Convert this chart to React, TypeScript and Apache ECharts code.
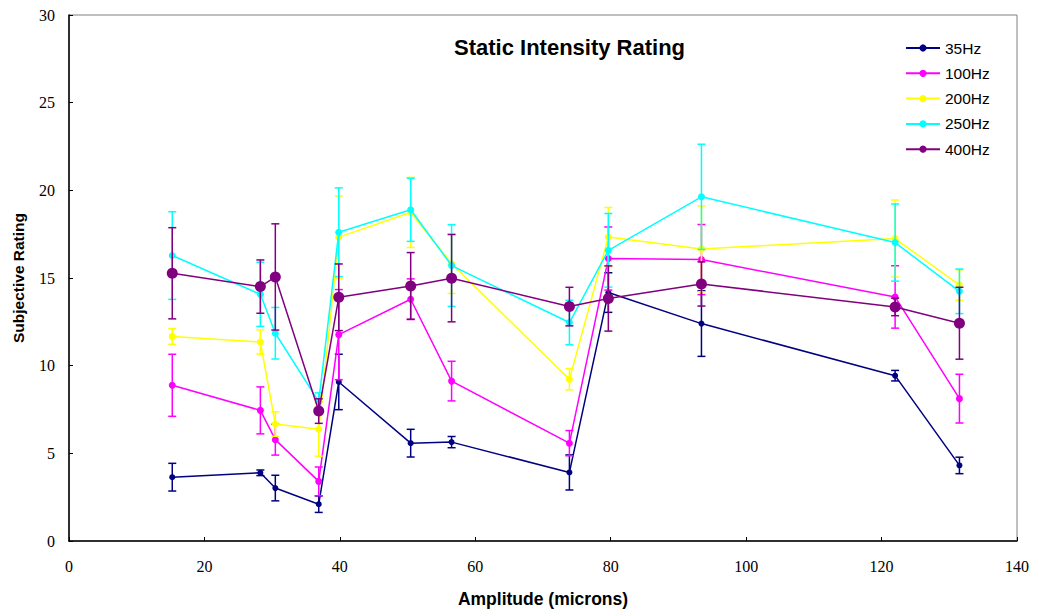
import React, { useEffect, useRef } from "react";
import * as echarts from "echarts";

const amplitudes = [15.25, 28.26, 30.47, 36.88, 39.84, 50.46, 56.5, 73.9, 79.65, 93.4, 122.0, 131.5];
const seriesNames = ["35Hz", "100Hz", "200Hz", "250Hz", "400Hz"];
const seriesColors = ["#000080", "#FF00FF", "#FFFF00", "#00FFFF", "#800080"];
const symbolSizes = [6, 7, 7, 7, 11];

const hz35 = [3.64, 3.89, 3.02, 2.1, 9.07, 5.58, 5.64, 3.91, 14.17, 12.4, 9.43, 4.31];
const hz100 = [8.88, 7.45, 5.78, 3.4, 11.77, 13.79, 9.12, 5.58, 16.11, 16.05, 13.92, 8.12];
const hz200 = [11.67, 11.35, 6.67, 6.37, 17.33, 18.74, 15.82, 9.22, 17.34, 16.66, 17.25, 14.6];
const hz250 = [16.28, 14.07, 11.85, 7.95, 17.61, 18.89, 15.71, 12.46, 16.58, 19.63, 17.02, 14.24];
const hz400 = [15.27, 14.51, 15.06, 7.41, 13.9, 14.55, 14.99, 13.37, 13.83, 14.66, 13.35, 12.42];

const err35 = [0.79, 0.16, 0.73, 0.47, 1.58, 0.79, 0.32, 1.0, 1.13, 1.87, 0.3, 0.47];
const err100 = [1.77, 1.34, 0.88, 0.82, 2.57, 1.16, 1.13, 0.72, 1.8, 2.0, 1.78, 1.39];
const err200 = [0.45, 0.69, 0.7, 1.53, 2.35, 2.0, 1.7, 0.6, 1.68, 2.45, 2.2, 0.87];
const err250 = [2.5, 1.83, 1.47, 0.5, 2.53, 1.8, 2.33, 1.27, 2.1, 3.0, 2.2, 1.27];
const err400 = [2.6, 1.52, 3.03, 0.7, 1.9, 1.9, 2.49, 1.1, 1.86, 1.26, 0.5, 2.05];

const xTicks = [0, 20, 40, 60, 80, 100, 120, 140];
const yTicks = [0, 5, 10, 15, 20, 25, 30];

const values = [hz35, hz100, hz200, hz250, hz400];
const errors = [err35, err100, err200, err250, err400];

export default function App() {
  const ref = useRef<HTMLDivElement>(null);
  useEffect(() => {
    if (!ref.current) return;
    const chart = echarts.init(ref.current, undefined, { renderer: "svg" });
    const serif = "'Liberation Serif', 'Times New Roman', serif";
    const sans = "'Liberation Sans', Arial, sans-serif";
    const series: any[] = [];
    values.forEach((vals, i) => {
      const color = seriesColors[i];
      series.push({
        type: "custom",
        name: seriesNames[i] + " err",
        z: 2 + i * 2,
        silent: true,
        data: amplitudes.map((x, k) => [x, vals[k] - errors[i][k], vals[k] + errors[i][k]]),
        encode: { x: 0, y: [1, 2] },
        renderItem: (params: any, api: any) => {
          const x = api.value(0);
          const lo = api.coord([x, api.value(1)]);
          const hi = api.coord([x, api.value(2)]);
          const hw = 4;
          const style = { stroke: color, lineWidth: 1.5 };
          return {
            type: "group",
            children: [
              { type: "line", shape: { x1: lo[0], y1: lo[1], x2: hi[0], y2: hi[1] }, style },
              { type: "line", shape: { x1: lo[0] - hw, y1: lo[1], x2: lo[0] + hw, y2: lo[1] }, style },
              { type: "line", shape: { x1: hi[0] - hw, y1: hi[1], x2: hi[0] + hw, y2: hi[1] }, style },
            ],
          };
        },
      });
      series.push({
        type: "line",
        name: seriesNames[i],
        z: 3 + i * 2,
        data: amplitudes.map((x, k) => [x, vals[k]]),
        symbol: "circle",
        symbolSize: symbolSizes[i],
        showSymbol: true,
        itemStyle: { color },
        lineStyle: { color, width: 1.5 },
      });
    });

    chart.setOption({
      animation: false,
      backgroundColor: "#fff",
      title: {
        text: "Static Intensity Rating",
        left: 449,
        top: 31,
        textStyle: { fontFamily: sans, fontSize: 22, fontWeight: "bold", color: "#000" },
      },
      legend: {
        data: seriesNames,
        orient: "vertical",
        left: 900,
        top: 35,
        itemWidth: 34,
        itemHeight: 9,
        itemGap: 9.3,
        textStyle: { fontFamily: sans, fontSize: 15.5, color: "#000" },
      },
      grid: {
        left: 69,
        top: 15,
        right: 24,
        bottom: 72,
        show: true,
        borderColor: "#808080",
        borderWidth: 1,
      },
      xAxis: {
        type: "value",
        min: xTicks[0],
        max: xTicks[xTicks.length - 1],
        interval: 20,
        name: "Amplitude (microns)",
        nameLocation: "middle",
        nameGap: 49,
        nameTextStyle: { fontFamily: sans, fontSize: 17.5, fontWeight: "bold", color: "#000" },
        axisLine: { show: true, lineStyle: { color: "#000", width: 1.5 } },
        axisTick: { show: true, inside: true, length: 4, lineStyle: { color: "#000" } },
        axisLabel: { fontFamily: serif, fontSize: 16, color: "#000", margin: 17 },
        splitLine: { show: false },
      },
      yAxis: {
        type: "value",
        min: yTicks[0],
        max: yTicks[yTicks.length - 1],
        interval: 5,
        name: "Subjective Rating",
        nameLocation: "middle",
        nameGap: 43,
        nameTextStyle: { fontFamily: sans, fontSize: 15.5, fontWeight: "bold", color: "#000" },
        axisLine: { show: true, lineStyle: { color: "#000", width: 1.5 } },
        axisTick: { show: true, inside: true, length: 4, lineStyle: { color: "#000" } },
        axisLabel: { fontFamily: serif, fontSize: 16, color: "#000", margin: 14 },
        splitLine: { show: false },
      },
      series,
    });
    return () => chart.dispose();
  }, []);
  return <div ref={ref} style={{ width: 1041, height: 613, position: "absolute", left: 0, top: 0 }} />;
}
